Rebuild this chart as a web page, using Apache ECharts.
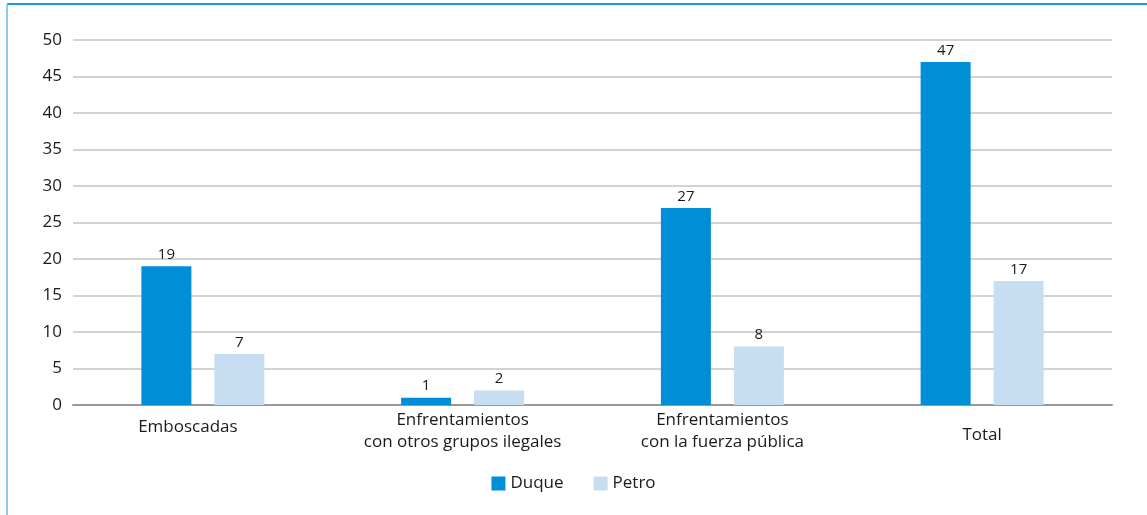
<!DOCTYPE html>
<html lang="es">
<head>
<meta charset="UTF-8">
<title>Duque vs Petro</title>
<script src="https://cdn.jsdelivr.net/npm/echarts@6/dist/echarts.min.js"></script>
<style>
  html, body { margin: 0; padding: 0; background: #fff; }
  #chart { width: 1147px; height: 515px; }
</style>
</head>
<body>
<div id="chart"></div>
<script>
// datos
var categorias = ['Emboscadas', 'Enfrentamientos\ncon otros grupos ilegales', 'Enfrentamientos\ncon la fuerza pública', 'Total'];
var duque = [19, 1, 27, 47];
var petro = [7, 2, 8, 17];
var series = ['Duque', 'Petro'];

// ajuste vertical de las etiquetas de una sola linea
var padCat = [[7, 30, 0, 0], [0, 0, 0, 0], [0, 0, 0, 0], [15, 0, 0, 0]];

var fuente = '"Open Sans", "Noto Sans", sans-serif';
var chart = echarts.init(document.getElementById('chart'));

var option = {
    animation: false,
    textStyle: { fontFamily: fuente },
    graphic: [
        { // marco azul arriba e izquierda
            type: 'polyline',
            shape: { points: [[1147, 4], [7, 4]] },
            style: { stroke: '#1a98db', lineWidth: 2, fill: null }
        },
        {
            type: 'polyline',
            shape: { points: [[7, 4], [7, 515]] },
            style: { stroke: '#8fcbec', lineWidth: 2, fill: null }
        }
    ],
    grid: { left: 73, right: 35, top: 40, bottom: 110 },
    legend: {
        bottom: 18,
        left: 'center',
        itemWidth: 14,
        itemHeight: 14,
        itemGap: 30,
        icon: 'rect',
        textStyle: { fontSize: 17, color: '#1a1a1a', fontFamily: fuente },
        data: series
    },
    xAxis: {
        type: 'category',
        data: categorias.map(function (c, i) {
            return { value: c, textStyle: { padding: padCat[i] } };
        }),
        axisLine: { lineStyle: { color: '#999999', width: 2 } },
        axisTick: { show: false },
        axisLabel: { fontSize: 17, color: '#1a1a1a', lineHeight: 22, margin: 4, interval: 0 }
    },
    yAxis: {
        type: 'value',
        min: 0,
        max: 50,
        interval: 5,
        axisLine: { show: false },
        axisTick: { show: false },
        axisLabel: { fontSize: 17, color: '#1a1a1a', margin: 11 },
        splitLine: { lineStyle: { color: '#c4c4c4', width: 1.5 } }
    },
    series: [
        {
            name: series[0],
            type: 'bar',
            data: duque,
            barWidth: 50,
            barGap: '46%',
            itemStyle: { color: '#008ed6' },
            label: { show: true, position: 'top', distance: 4, fontSize: 15, color: '#1a1a1a' }
        },
        {
            name: series[1],
            type: 'bar',
            data: petro,
            barWidth: 50,
            itemStyle: { color: '#c6ddf2' },
            label: { show: true, position: 'top', distance: 4, fontSize: 15, color: '#1a1a1a' }
        }
    ]
};

chart.setOption(option);
</script>
</body>
</html>
